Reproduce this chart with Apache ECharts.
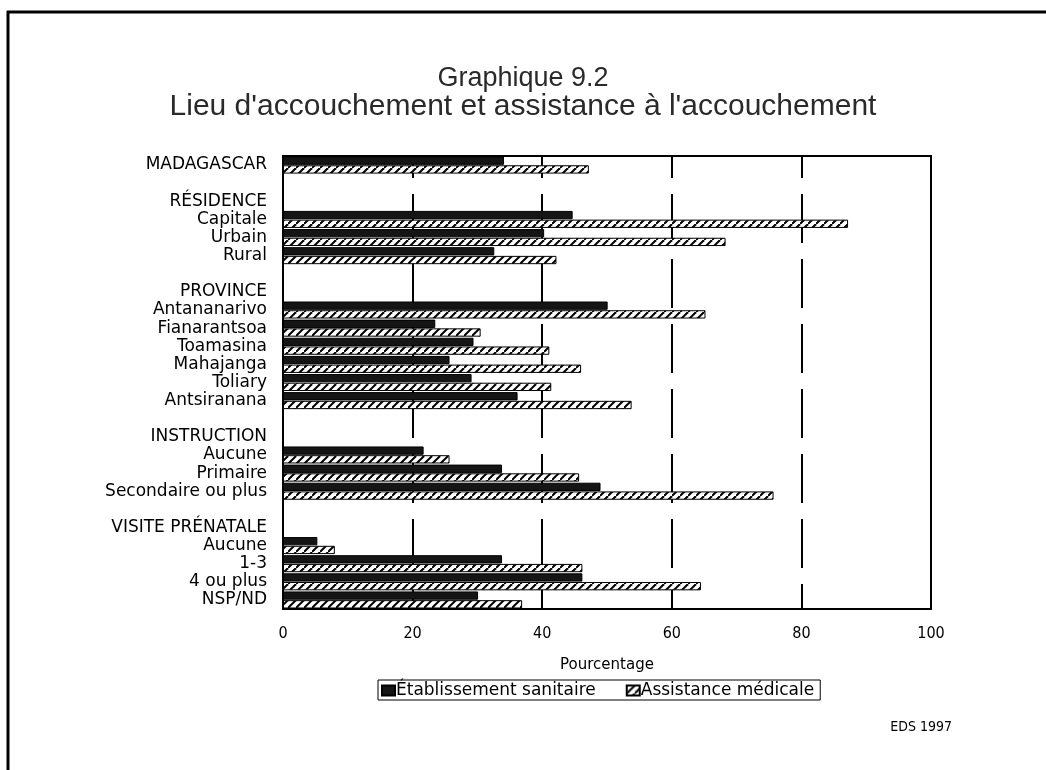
<!DOCTYPE html>
<html>
<head>
<meta charset="utf-8">
<script src="https://cdn.jsdelivr.net/npm/echarts@6/dist/echarts.min.js"></script>
<style>
html,body{margin:0;padding:0;background:#fff;}
#chart{width:1046px;height:770px;}
</style>
</head>
<body>
<div id="chart"></div>
<script>
// ---- data ----
var categories = ['MADAGASCAR','','RÉSIDENCE','Capitale','Urbain','Rural','','PROVINCE','Antananarivo','Fianarantsoa','Toamasina','Mahajanga','Toliary','Antsiranana','','INSTRUCTION','Aucune','Primaire','Secondaire ou plus','','VISITE PRÉNATALE','Aucune','1-3','4 ou plus','NSP/ND'];
var etablissement = [34.1,null,null,44.7,40.3,32.6,null,null,50.1,23.5,29.4,25.7,29.1,36.2,null,null,21.7,33.8,49.0,null,null,5.3,33.8,46.2,30.1];
var assistance = [47.2,null,null,87.2,68.3,42.2,null,null,65.2,30.5,41.1,46.0,41.4,53.8,null,null,25.7,45.7,75.7,null,null,8.0,46.2,64.5,36.9];
var seriesNames = ['Établissement sanitaire','Assistance médicale'];
var xTicks = [0,20,40,60,80,100];

// hatch pattern
var pc = document.createElement('canvas');
pc.width = 8; pc.height = 8;
var ctx = pc.getContext('2d');
ctx.fillStyle = '#fff'; ctx.fillRect(0,0,8,8);
ctx.strokeStyle = '#000'; ctx.lineWidth = 2;
[[0,8,8,0],[-8,8,0,0],[8,16,16,8]].forEach(function(l){
  ctx.beginPath(); ctx.moveTo(l[0],l[1]); ctx.lineTo(l[2],l[3]); ctx.stroke();
});

var chart = echarts.init(document.getElementById('chart'), null, {renderer:'canvas'});
var option = {
  backgroundColor:'#fff',
  animation:false,
  title:[
    {text:'Graphique 9.2', left:'center', top:60, textStyle:{fontFamily:'Liberation Sans', fontSize:27, fontWeight:'normal', color:'#2a2a2a'}},
    {text:"Lieu d'accouchement et assistance à l'accouchement", left:'center', top:87, textStyle:{fontFamily:'Liberation Sans', fontSize:30, fontWeight:'normal', color:'#2a2a2a'}}
  ],
  grid:{left:283, top:156, right:115, bottom:161, show:true, borderColor:'#000', borderWidth:2, backgroundColor:'transparent'},
  legend:{
    data:seriesNames, left:378, top:680, orient:'horizontal', icon:'rect',
    itemWidth:13, itemHeight:10, itemGap:30,
    borderColor:'#000', borderWidth:1, borderRadius:0, padding:[2,6,1,3],
    textStyle:{fontFamily:'DejaVu Sans', fontSize:17, color:'#000', padding:[0,0,0,-4]}
  },
  xAxis:{
    type:'value', min:0, max:100, interval:20,
    axisLine:{show:false}, axisTick:{show:false},
    axisLabel:{fontFamily:'DejaVu Sans Condensed', fontSize:16, color:'#000', margin:17,
      customValues: xTicks},
    splitLine:{show:true, lineStyle:{color:'#000', width:2, type:[49,16], dashOffset:27}},
    name:'Pourcentage', nameLocation:'middle', nameGap:49,
    nameTextStyle:{fontFamily:'DejaVu Sans', fontSize:15, color:'#000'}
  },
  yAxis:{
    type:'category', inverse:true, data:categories,
    axisLine:{show:true, lineStyle:{color:'#000', width:2}}, axisTick:{show:false},
    axisLabel:{fontFamily:'DejaVu Sans', fontSize:17, color:'#000', margin:16, interval:0}
  },
  series:[
    {name:seriesNames[0], type:'bar', data:etablissement, barGap:'5%', barCategoryGap:'6%',
     itemStyle:{color:'#151515', borderColor:'#000', borderWidth:1}},
    {name:seriesNames[1], type:'bar', data:assistance, barGap:'5%', barCategoryGap:'6%',
     itemStyle:{color:{image:pc, repeat:'repeat'}, borderColor:'#000', borderWidth:1}}
  ],
  graphic:[
    {type:'line', shape:{x1:8, y1:11, x2:8, y2:770}, style:{stroke:'#000', lineWidth:3}},
    {type:'line', shape:{x1:7, y1:12, x2:1046, y2:12}, style:{stroke:'#000', lineWidth:3}},
    {type:'text', right:94, top:720, style:{text:'EDS 1997', font:'14px "DejaVu Sans Condensed"', fill:'#000'}}
  ]
};
chart.setOption(option);
</script>
</body>
</html>
